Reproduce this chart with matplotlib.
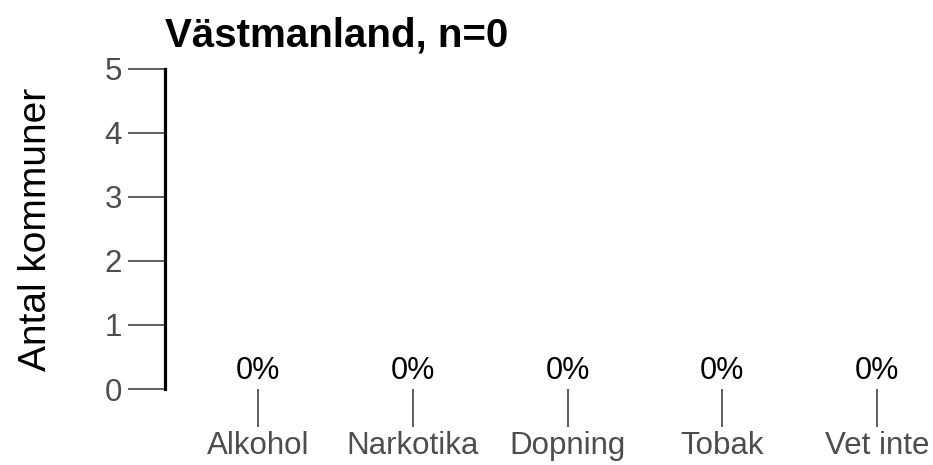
import matplotlib.pyplot as plt
import numpy as np

plt.rcParams['font.family'] = ['Liberation Sans', 'DejaVu Sans']

title = 'Västmanland, n=0'
categories = ['Alkohol', 'Narkotika', 'Dopning', 'Tobak', 'Vet inte']
counts = [0, 0, 0, 0, 0]
shares = [0, 0, 0, 0, 0]
y_ticks = [0, 1, 2, 3, 4, 5]


def main():
    W, H = 933, 465
    fig = plt.figure(figsize=(W / 100, H / 100), dpi=100)
    # panel runs past the right edge, like the cropped original
    ax = fig.add_axes([165 / W, (H - 389) / H, (970 - 165) / W, 320 / H])

    x = np.arange(1, len(categories) + 1)
    ax.bar(x, counts, width=0.7, color='#4472c4')
    for xi, c, s in zip(x, counts, shares):
        ax.annotate(f'{s}%', (xi, c), xytext=(0, 2), textcoords='offset points',
                    ha='center', va='bottom', fontsize=22, color='black')

    ax.set_xlim(0.4, 5.6)
    ax.set_ylim(0, 5)
    ax.set_xticks(x)
    ax.set_xticklabels(categories)
    ax.set_yticks(y_ticks)

    for side in ['top', 'right', 'bottom']:
        ax.spines[side].set_visible(False)
    ax.spines['left'].set_linewidth(2.3)
    ax.spines['left'].set_color('black')

    ax.tick_params(axis='both', length=27, width=1.1, color='#333333',
                   labelsize=22.5, labelcolor='#4d4d4d')
    ax.tick_params(axis='y', pad=4)
    ax.tick_params(axis='x', pad=3)

    ax.set_ylabel('Antal kommuner', fontsize=28, labelpad=36)
    ax.set_title(title, fontsize=29, fontweight='bold', loc='left', pad=16)

    fig.savefig('out.png', dpi=100)


if __name__ == "__main__":
    main()
